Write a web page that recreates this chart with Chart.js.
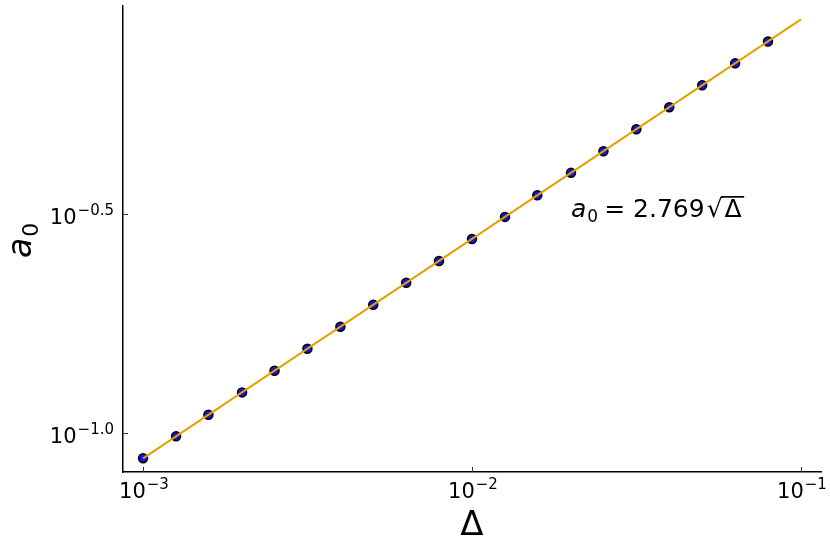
<!DOCTYPE html>
<html>
<head>
<meta charset="utf-8">
<script src="https://cdn.jsdelivr.net/npm/chart.js@4/dist/chart.umd.min.js"></script>
<style>
  html, body { margin: 0; padding: 0; background: #ffffff; }
  #wrap { width: 830px; height: 554px; }
</style>
</head>
<body>
<div id="wrap"><canvas id="chart" width="830" height="554"></canvas></div>
<script>
// measured points (Δ, a0)
const deltaVals = [0.001, 0.00126, 0.00158, 0.002, 0.00251, 0.00316, 0.00398, 0.00501, 0.00631, 0.00794,
                   0.01, 0.0126, 0.0158, 0.02, 0.0251, 0.0316, 0.0398, 0.0501, 0.0631, 0.0794];
const a0Vals = [0.0876, 0.0983, 0.1101, 0.1238, 0.1387, 0.1557, 0.1747, 0.1960, 0.2200, 0.2467,
                0.2769, 0.3108, 0.3481, 0.3916, 0.4387, 0.4922, 0.5524, 0.6198, 0.6956, 0.7803];

// fitted line a0 = 2.769 sqrt(Δ)
const fitDelta = [0.001, 0.1];
const fitA0 = [0.0876, 0.8757];

// ticks
const xTickVals = [0.001, 0.01, 0.1];
const xTickExps = ["\u22123", "\u22122", "\u22121"];
const yTickVals = [0.31623, 0.1];
const yTickExps = ["\u22120.5", "\u22121.0"];

const FONT = "'DejaVu Sans', sans-serif";

function drawPow(ctx, exp, x, y, align) {
    ctx.font = "21px " + FONT;
    const wb = ctx.measureText("10").width;
    ctx.font = "15px " + FONT;
    const we = ctx.measureText(exp).width;
    let x0 = x;
    if (align === "center") x0 = x - (wb + we) / 2;
    else if (align === "right") x0 = x - (wb + we);
    ctx.textAlign = "left";
    ctx.textBaseline = "alphabetic";
    ctx.font = "21px " + FONT;
    ctx.fillText("10", x0, y);
    ctx.font = "15px " + FONT;
    ctx.fillText(exp, x0 + wb + 1, y - 9);
}

const decorPlugin = {
    id: "decor",
    afterDraw(chart) {
        const ctx = chart.ctx;
        const xs = chart.scales.x;
        const ys = chart.scales.y;
        const area = chart.chartArea;
        ctx.save();
        ctx.fillStyle = "#000";
        ctx.strokeStyle = "#333";
        ctx.lineWidth = 1;

        // tick marks (inward) and labels
        xTickVals.forEach((v, i) => {
            const px = Math.round(xs.getPixelForValue(v)) + 0.5;
            ctx.beginPath();
            ctx.moveTo(px, area.bottom);
            ctx.lineTo(px, area.bottom - 5);
            ctx.stroke();
            drawPow(ctx, xTickExps[i], px, area.bottom + 26, "center");
        });
        yTickVals.forEach((v, i) => {
            const py = Math.round(ys.getPixelForValue(v)) + 0.5;
            ctx.beginPath();
            ctx.moveTo(area.left, py);
            ctx.lineTo(area.left + 5, py);
            ctx.stroke();
            drawPow(ctx, yTickExps[i], area.left - 10, py + 9, "right");
        });

        // x title
        ctx.font = "34px " + FONT;
        ctx.textAlign = "center";
        ctx.textBaseline = "alphabetic";
        ctx.fillText("\u0394", (xs.getPixelForValue(0.01)), 535);

        // y title (rotated)
        ctx.save();
        ctx.translate(31, 258);
        ctx.rotate(-Math.PI / 2);
        ctx.textAlign = "left";
        ctx.font = "italic 33px " + FONT;
        ctx.fillText("a", 0, 0);
        const wa = ctx.measureText("a").width;
        ctx.font = "22px " + FONT;
        ctx.fillText("0", wa + 1, 7);
        ctx.restore();

        // annotation: a0 = 2.769 √Δ
        let x = 571;
        const y = 217;
        ctx.textAlign = "left";
        ctx.font = "italic 25px " + FONT;
        ctx.fillText("a", x, y);
        x += ctx.measureText("a").width + 1;
        ctx.font = "17px " + FONT;
        ctx.fillText("0", x, y + 5);
        x += ctx.measureText("0").width + 6;
        ctx.font = "25px " + FONT;
        ctx.fillText("=", x, y);
        x += ctx.measureText("=").width + 8;
        ctx.fillText("2.769", x, y);
        x += ctx.measureText("2.769").width + 2;
        const mr = ctx.measureText("\u221A");
        ctx.fillText("\u221A", x, y);
        const topY = y - mr.actualBoundingBoxAscent;
        const rootRight = x + mr.actualBoundingBoxRight;
        x += mr.width + 2;
        const wd = ctx.measureText("\u0394").width;
        ctx.fillText("\u0394", x, y);
        ctx.fillRect(rootRight - 1.5, topY, x + wd + 4 - rootRight, 1.7);

        ctx.restore();
    }
};

const ctx = document.getElementById("chart").getContext("2d");

new Chart(ctx, {
    type: "scatter",
    data: {
        datasets: [
            {
                label: "fit",
                data: fitDelta.map((d, i) => ({ x: d, y: fitA0[i] })),
                showLine: true,
                borderColor: "#E69F00",
                borderWidth: 2,
                pointRadius: 0,
                fill: false,
                order: 0
            },
            {
                label: "data",
                data: deltaVals.map((d, i) => ({ x: d, y: a0Vals[i] })),
                showLine: false,
                backgroundColor: "#1414d8",
                borderColor: "#000000",
                borderWidth: 1.5,
                pointRadius: 4.5,
                order: 1
            }
        ]
    },
    options: {
        responsive: false,
        animation: false,
        layout: {
            padding: { left: 123, right: 9, top: 4, bottom: 82 }
        },
        plugins: {
            legend: { display: false },
            tooltip: { enabled: false }
        },
        scales: {
            x: {
                type: "logarithmic",
                min: 0.000869,
                max: 0.1151,
                bounds: "data",
                grid: { display: false, drawTicks: false },
                ticks: { display: false },
                border: { display: true, color: "#000", width: 1.5 }
            },
            y: {
                type: "logarithmic",
                min: 0.08153,
                max: 0.9397,
                bounds: "data",
                grid: { display: false, drawTicks: false },
                ticks: { display: false },
                border: { display: true, color: "#000", width: 1.5 }
            }
        }
    },
    plugins: [decorPlugin]
});
</script>
</body>
</html>
